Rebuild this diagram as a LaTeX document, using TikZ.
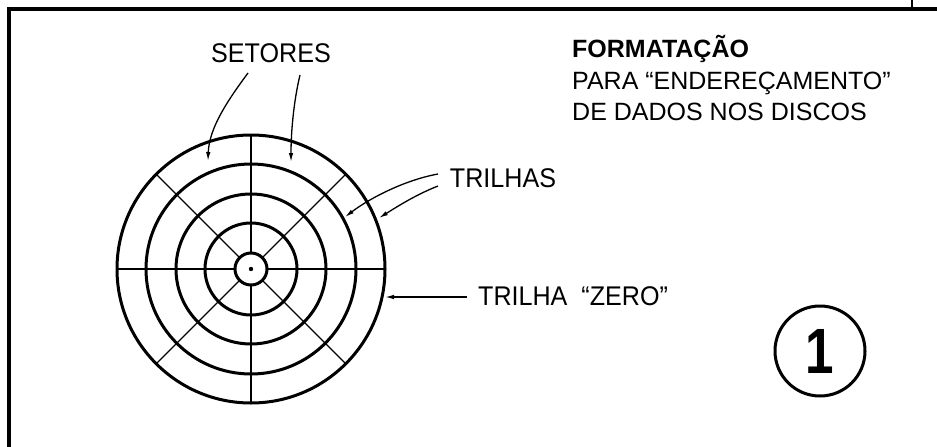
\documentclass[tikz,border=0pt]{standalone}
\usepackage{fontspec}
\setmainfont{Liberation Sans}
\newfontfamily\labfont[FakeStretch=0.93]{Liberation Sans}
\newfontfamily\numfont[FakeStretch=0.8]{Liberation Sans}
\usetikzlibrary{arrows.meta,calc}
\begin{document}
\begin{tikzpicture}[x=1pt,y=-1pt,
  ring/.style={line width=3pt},
  spoke/.style={line width=1.3pt},
  frameline/.style={line width=4pt},
  pointer/.style={line width=1.3pt,-{Latex[length=9pt,width=4.5pt]}},
  lab/.style={inner sep=0pt,font=\labfont\fontsize{27}{27}\selectfont},
  blk/.style={inner sep=0pt,anchor=base west,font=\fontsize{25}{25}\selectfont}]
\useasboundingbox (0,0) rectangle (937,447);
% frame
\draw[frameline] (9,447) -- (9,9) -- (937,9);
\draw[line width=1.5pt] (912,0) -- (912,9);
% disc
\coordinate (c) at (251,269);
\foreach \r in {134,105,75,46,16} \draw[ring] (c) circle (\r);
\fill (c) circle (2.2);
\foreach \a in {0,45,...,315} \draw[spoke] ($(c)+(\a:16)$) -- ($(c)+(\a:134)$);
% labels
\node[lab] (set) at (271,53) {SETORES};
\node[lab] (tri) at (503,178) {TRILHAS};
\node[lab,anchor=base west] (zero) at (478,305) {TRILHA \ “ZERO”};
\node[blk] (t1) at (572,57) {\bfseries FORMATAÇÃO};
\node[blk] (t2) at (572,89) {PARA “ENDEREÇAMENTO”};
\node[blk] (t3) at (572,120) {DE DADOS NOS DISCOS};
% arrows
\coordinate (s1a) at (248,73); \coordinate (s1b) at (208,161);
\coordinate (s2a) at (300,75); \coordinate (s2b) at (291,162);
\draw[pointer] (s1a) .. controls (228,100) and (209,128) .. (s1b);
\draw[pointer] (s2a) .. controls (294,100) and (291,130) .. (s2b);
\coordinate (t1a) at (438,174); \coordinate (t1b) at (345,217);
\coordinate (t2a) at (438,186); \coordinate (t2b) at (379,218);
\draw[pointer] (t1a) .. controls (405,180) and (370,198) .. (t1b);
\draw[pointer] (t2a) .. controls (415,195) and (395,208) .. (t2b);
\coordinate (za) at (467,297); \coordinate (zb) at (385,297);
\draw[pointer] (za) -- (zb);
% circled number
\node[circle,draw,line width=3pt,minimum size=90pt,inner sep=0pt] (one) at (820,351) {};
\node[inner sep=0pt,font=\numfont\bfseries\fontsize{64}{64}\selectfont] (onetxt) at (one.center) {1};
\end{tikzpicture}
\end{document}
